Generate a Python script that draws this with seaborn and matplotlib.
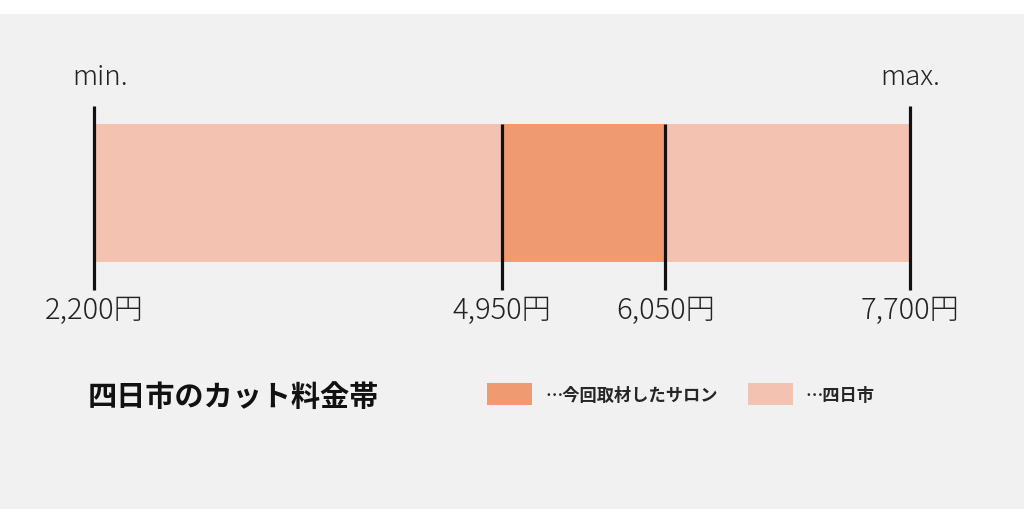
import matplotlib
matplotlib.use("Agg")
import matplotlib.pyplot as plt
import matplotlib.patches as mpatches
import seaborn as sns

# データ(円)
city_min = 2200
city_max = 7700
salon_min = 4950
salon_max = 6050
tick_values = [2200, 4950, 6050, 7700]
tick_labels = ["2,200円", "4,950円", "6,050円", "7,700円"]
end_labels = ["min.", "max."]
legend_labels = ["…今回取材したサロン", "…四日市"]
title = "四日市のカット料金帯"

color_city = "#f4c2b1"
color_salon = "#ef9a71"
bg = "#f1f1f1"

sns.set_theme(style="white")
plt.rcParams["font.family"] = ["Noto Sans CJK JP", "DejaVu Sans"]

fig = plt.figure(figsize=(10.24, 5.1), dpi=100, facecolor="white")
ax = fig.add_axes([0, 0, 1, 495 / 510])
ax.set_facecolor(bg)

# x軸: 2,200円 -> 94px, 7,700円 -> 910px
px_per_yen = (910 - 94) / (city_max - city_min)
ax.set_xlim(city_min - 94 / px_per_yen, city_min + (1024 - 94) / px_per_yen)
ax.set_ylim(2.29, -1.297)

# 料金帯のバー
ax.barh(0, city_max - city_min, left=city_min, height=1.0, color=color_city, linewidth=0)
ax.barh(0, salon_max - salon_min, left=salon_min, height=1.0, color=color_salon, linewidth=0)

# 目盛り線
for v in tick_values:
    top = -0.63 if v in (city_min, city_max) else -0.5
    ax.plot([v, v], [top, 0.70], color="#111111", lw=2.3, solid_capstyle="butt")

for v, lab in zip(tick_values, tick_labels):
    ax.text(v, 0.848, lab, ha="center", va="center", fontsize=21,
            fontweight="light", color="#222222")

for v, lab in zip([city_min, city_max], end_labels):
    ax.text(v + (6 / px_per_yen if v == city_min else 0), -0.845, lab,
            ha="center", va="center", fontsize=20, fontweight="light", color="#222222")

# タイトル
ax.text(city_min - 6 / px_per_yen, 1.47, title, ha="left", va="center",
        fontsize=21, fontweight="bold", color="#111111")

# 凡例
handles = [mpatches.Patch(color=color_salon, linewidth=0),
           mpatches.Patch(color=color_city, linewidth=0)]
leg = fig.legend(handles, legend_labels, ncol=2, frameon=False,
                 loc="center left", bbox_to_anchor=(487 / 1024, 1 - 395 / 510),
                 borderpad=0, borderaxespad=0, handlelength=2.62, handleheight=1.51,
                 handletextpad=0.76, columnspacing=1.74,
                 prop={"size": 12.4, "weight": "bold", "family": ["Noto Sans CJK JP", "DejaVu Sans"]})

ax.set_xticks([])
ax.set_yticks([])
for s in ax.spines.values():
    s.set_visible(False)

fig.savefig("out.png", dpi=100, facecolor="white")
